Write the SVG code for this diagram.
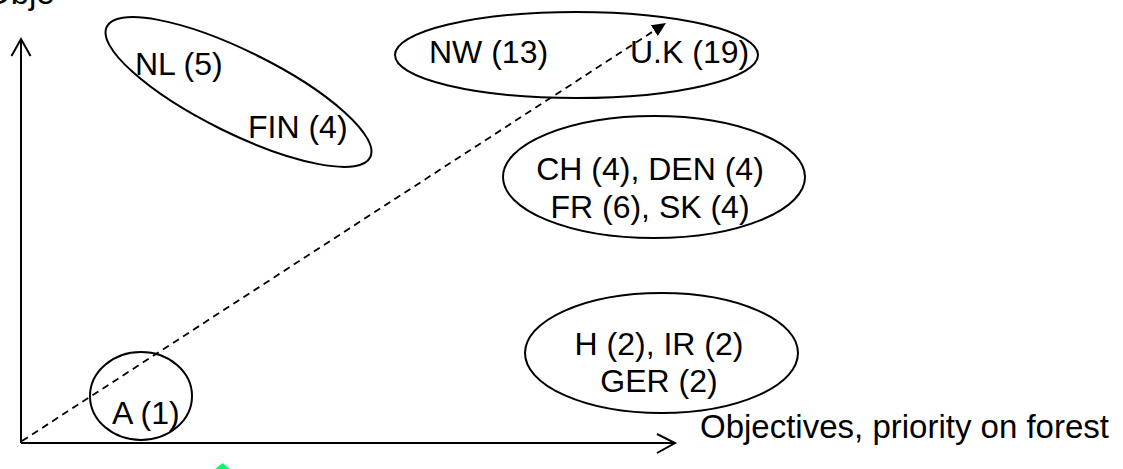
<svg xmlns="http://www.w3.org/2000/svg" width="1123" height="469" viewBox="0 0 1123 469">
<style>
.lbl{font-family:"Liberation Sans",Arial,sans-serif;font-size:32px;fill:#000}
.axl{font-family:"Liberation Sans",Arial,sans-serif;font-size:33px;fill:#000}
.ell{fill:none;stroke:#000;stroke-width:2}
.ax{fill:none;stroke:#000;stroke-width:2}
</style>
<defs>
<marker id="tri" viewBox="0 0 14 13" refX="14" refY="6.5" markerWidth="14" markerHeight="13" markerUnits="userSpaceOnUse" orient="auto">
<path d="M0,0 L14,6.5 L0,13 z" fill="#000"/>
</marker>
</defs>
<rect width="1123" height="469" fill="#fff"/>
<text class="axl" x="-15" y="4">Obje</text>
<g id="axes">
<path class="ax" d="M21,443 V40"/>
<path class="ax" d="M11.5,56 L21,39 L30.5,56"/>
<path class="ax" d="M21,443 H675"/>
<path class="ax" d="M657,434 L675,443 L657,453"/>
<text class="axl" x="700" y="438">Objectives, priority on forest</text>
</g>
<g id="connectors">
<path d="M22,441 L666,23" fill="none" stroke="#000" stroke-width="1.8" stroke-dasharray="7,5" marker-end="url(#tri)"/>
</g>
<g id="nl-fin">
<ellipse class="ell" cx="238.5" cy="92" rx="147" ry="41" transform="rotate(26.35 238.5 92)"/>
<text class="lbl" x="135" y="75">NL (5)</text>
<text class="lbl" x="248" y="138">FIN (4)</text>
</g>
<g id="nw-uk">
<ellipse class="ell" cx="576.5" cy="55" rx="181.5" ry="43"/>
<text class="lbl" x="429" y="63">NW (13)</text>
<text class="lbl" x="630" y="63">U.K (19)</text>
</g>
<g id="ch-den">
<ellipse class="ell" cx="654" cy="177" rx="151" ry="61"/>
<text class="lbl" x="650" y="180" text-anchor="middle">CH (4), DEN (4)</text>
<text class="lbl" x="650" y="218" text-anchor="middle">FR (6), SK (4)</text>
</g>
<g id="h-ir">
<ellipse class="ell" cx="661.5" cy="353" rx="136.5" ry="60"/>
<text class="lbl" x="659" y="355" text-anchor="middle">H (2), IR (2)</text>
<text class="lbl" x="659" y="392" text-anchor="middle">GER (2)</text>
</g>
<g id="a">
<ellipse class="ell" cx="141" cy="396" rx="51" ry="44"/>
<text class="lbl" x="112" y="424">A (1)</text>
</g>
<polygon points="222.5,463 231,470 214,470" fill="#00ff66"/>
</svg>
